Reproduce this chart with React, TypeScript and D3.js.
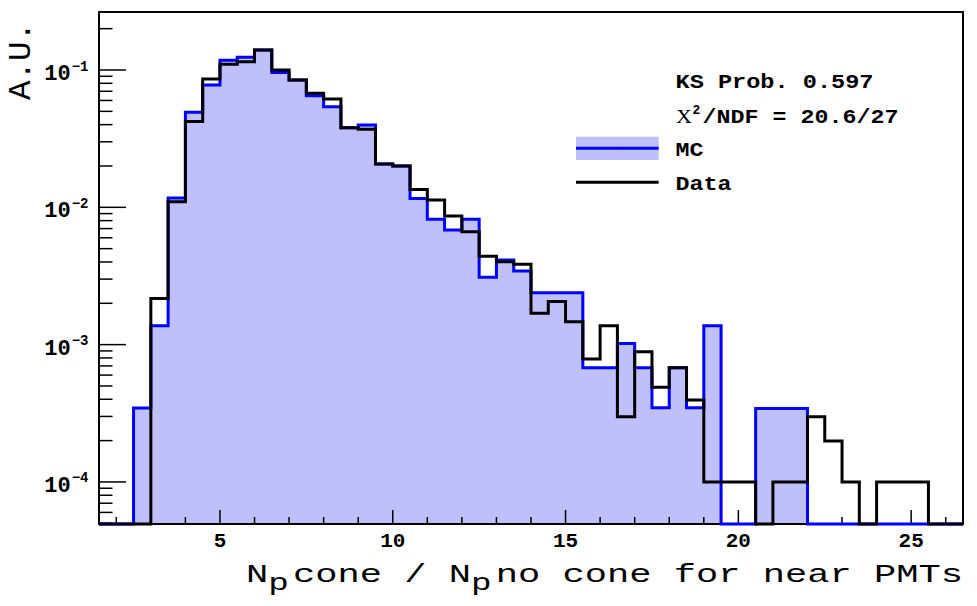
import React from "react";
import * as d3 from "d3";

// Histogram bins (lower edges), bin width 0.5
const binLow = [
  1.5, 2.0, 2.5, 3.0, 3.5, 4.0, 4.5, 5.0, 5.5, 6.0,
  6.5, 7.0, 7.5, 8.0, 8.5, 9.0, 9.5, 10.0, 10.5, 11.0,
  11.5, 12.0, 12.5, 13.0, 13.5, 14.0, 14.5, 15.0, 15.5, 16.0,
  16.5, 17.0, 17.5, 18.0, 18.5, 19.0, 19.5, 20.0, 20.5, 21.0,
  21.5, 22.0, 22.5, 23.0, 23.5, 24.0, 24.5, 25.0, 25.5, 26.0,
];
const binWidth = 0.5;

const mcValues = [
  0, 0, 3.45e-4, 1.37e-3, 0.0117, 0.0492, 0.0778, 0.118, 0.124, 0.14,
  0.096, 0.0846, 0.065, 0.054, 0.038, 0.0398, 0.0207, 0.02, 0.0116, 0.00818,
  0.00684, 0.00818, 0.00309, 0.00413, 0.00344, 0.00239, 0.00239, 0.00239, 6.8e-4, 6.8e-4,
  1.02e-3, 6.8e-4, 3.47e-4, 6.8e-4, 3.47e-4, 1.37e-3, 0, 0, 3.43e-4, 3.43e-4,
  3.43e-4, 0, 0, 0, 0, 0, 0, 0, 0, 0,
];

const dataValues = [
  0, 0, 0, 2.17e-3, 0.011, 0.0421, 0.086, 0.11, 0.115, 0.14,
  0.1, 0.0846, 0.0676, 0.0615, 0.038, 0.037, 0.0207, 0.02, 0.0135, 0.0113,
  0.00865, 0.00665, 0.00441, 0.00401, 0.00385, 0.00169, 0.00206, 0.00147, 7.85e-4, 1.37e-3,
  2.98e-4, 8.87e-4, 4.89e-4, 6.8e-4, 3.95e-4, 1.0e-4, 1.0e-4, 1.0e-4, 0, 1.0e-4,
  1.0e-4, 2.98e-4, 1.99e-4, 1.0e-4, 0, 1.0e-4, 1.0e-4, 1.0e-4, 0, 0,
];

const xDomain = [1.5, 26.5];
const yDomain = [4.94e-5, 0.2645];
const xTicks = [2, 3, 4, 5, 6, 7, 8, 9, 10, 11, 12, 13, 14, 15, 16, 17, 18, 19, 20, 21, 22, 23, 24, 25, 26];
const xMajorTicks = [5, 10, 15, 20, 25];
const yDecades = [-4, -3, -2, -1];
const legendLines = ["KS Prob. 0.597", "/NDF = 20.6/27"];
const legendEntries = ["MC", "Data"];

const W = 977;
const H = 606;
const frame = { left: 99, top: 12, right: 963, bottom: 524 };

const MONO = "'Liberation Mono', 'DejaVu Sans Mono', monospace";
const SERIF = "'Liberation Serif', 'DejaVu Serif', serif";
const FILL = "#bfbffa";
const BLUE = "#0000ff";

export default function App() {
  const x = d3.scaleLinear().domain(xDomain).range([frame.left, frame.right]);
  const y = d3.scaleLog().domain(yDomain).range([frame.bottom, frame.top]);
  const yv = (v: number) => y(Math.max(v, yDomain[0]));

  const stepPoints = (vals: number[]): [number, number][] => {
    const pts: [number, number][] = [[x(binLow[0]), frame.bottom]];
    binLow.forEach((lo, i) => {
      pts.push([x(lo), yv(vals[i])]);
      pts.push([x(lo + binWidth), yv(vals[i])]);
    });
    pts.push([x(binLow[binLow.length - 1] + binWidth), frame.bottom]);
    return pts;
  };
  const line = d3.line<[number, number]>();
  const mcPath = line(stepPoints(mcValues)) || "";
  const dataPath = line(stepPoints(dataValues)) || "";
  const mcArea = mcPath + "Z";

  // y minor ticks
  const yMinor: number[] = [];
  for (let d = -5; d <= -1; d++) {
    for (let k = 2; k <= 9; k++) {
      const v = k * Math.pow(10, d);
      if (v >= yDomain[0] && v <= yDomain[1]) yMinor.push(v);
    }
  }

  return (
    <svg width={W} height={H} style={{ position: "absolute", left: 0, top: 0, background: "#fff" }}>
      <rect x={0} y={0} width={W} height={H} fill="#fff" />
      {/* MC fill */}
      <path d={mcArea} fill={FILL} stroke="none" />

      {/* axes ticks */}
      <g stroke="#000" strokeWidth={1.5}>
        {xTicks.map((t) => {
          const len = xMajorTicks.includes(t) ? 14 : 7;
          return <line key={"xt" + t} x1={x(t)} x2={x(t)} y1={frame.bottom} y2={frame.bottom - len} />;
        })}
        {yDecades.map((d) => (
          <line key={"yM" + d} x1={frame.left} x2={frame.left + 27} y1={y(Math.pow(10, d))} y2={y(Math.pow(10, d))} />
        ))}
        {yMinor.map((v, i) => (
          <line key={"ym" + i} x1={frame.left} x2={frame.left + 13.5} y1={y(v)} y2={y(v)} />
        ))}
      </g>

      {/* frame */}
      <rect
        x={frame.left}
        y={frame.top}
        width={frame.right - frame.left}
        height={frame.bottom - frame.top}
        fill="none"
        stroke="#000"
        strokeWidth={2}
      />

      {/* MC line */}
      <path d={mcPath} fill="none" stroke={BLUE} strokeWidth={3} strokeLinejoin="miter" />
      {/* Data line */}
      <path d={dataPath} fill="none" stroke="#000" strokeWidth={3} strokeLinejoin="miter" />

      {/* x tick labels */}
      {xMajorTicks.map((t) => (
        <text
          key={"xl" + t}
          x={x(t)}
          y={547}
          textAnchor="middle"
          fontFamily={MONO}
          fontWeight="bold"
          fontSize={21}
        >
          {t}
        </text>
      ))}

      {/* y tick labels */}
      {yDecades.map((d) => (
        <text
          key={"yl" + d}
          x={88.5}
          y={y(Math.pow(10, d)) + 10}
          textAnchor="end"
          fontFamily={MONO}
          fontWeight="bold"
          fontSize={22}
        >
          <tspan>10</tspan>
          <tspan fontSize={14} dy={-9.5} dx={1}>
            {"\u2212" + String(-d)}
          </tspan>
        </text>
      ))}

      {/* y axis title */}
      <text
        transform="translate(30,22) rotate(-90)"
        textAnchor="end"
        fontFamily={MONO}
        fontSize={31}
        textLength={78}
        lengthAdjust="spacingAndGlyphs"
      >
        A.U.
      </text>

      {/* x axis title */}
      <text
        x={246}
        y={581.7}
        fontFamily={MONO}
        fontSize={26}
        textLength={717}
        lengthAdjust="spacingAndGlyphs"
      >
        <tspan>N</tspan>
        <tspan fontSize={24} dy={8}>p</tspan>
        <tspan dy={-8} dx={3}>cone / N</tspan>
        <tspan fontSize={24} dy={8}>p</tspan>
        <tspan dy={-8} dx={3}>no cone for near PMTs</tspan>
      </text>

      {/* legend / stats */}
      <text x={675.5} y={87.7} fontFamily={MONO} fontWeight="bold" fontSize={19.5} textLength={198} lengthAdjust="spacingAndGlyphs">
        {legendLines[0]}
      </text>
      <text x={676} y={122.7} fontFamily={SERIF} fontSize={19.5} textLength={16} lengthAdjust="spacingAndGlyphs">
        X
      </text>
      <text x={692.5} y={114} fontFamily={MONO} fontWeight="bold" fontSize={13}>
        2
      </text>
      <text x={702.5} y={122.7} fontFamily={MONO} fontWeight="bold" fontSize={19.5} textLength={196} lengthAdjust="spacingAndGlyphs">
        {legendLines[1]}
      </text>

      <rect x={576} y={136.7} width={82.7} height={23.3} fill={FILL} />
      <line x1={576} x2={658.7} y1={148.3} y2={148.3} stroke={BLUE} strokeWidth={3} />
      <rect x={616.2} y={147.8} width={1} height={1} fill="#000" />
      <text x={675.5} y={156} fontFamily={MONO} fontWeight="bold" fontSize={19.5} textLength={28} lengthAdjust="spacingAndGlyphs">
        {legendEntries[0]}
      </text>

      <line x1={576} x2={658.7} y1={182.3} y2={182.3} stroke="#000" strokeWidth={3} />
      <text x={675.5} y={190} fontFamily={MONO} fontWeight="bold" fontSize={19.5} textLength={56} lengthAdjust="spacingAndGlyphs">
        {legendEntries[1]}
      </text>
    </svg>
  );
}
